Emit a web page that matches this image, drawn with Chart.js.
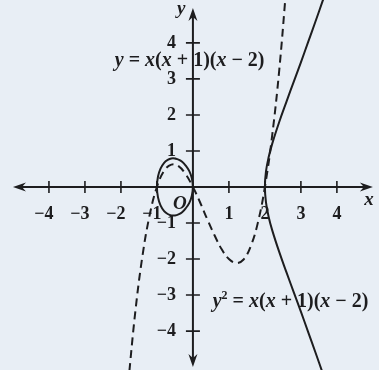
<!DOCTYPE html>
<html lang="en">
<head>
<meta charset="UTF-8" />
<title>y = x(x+1)(x-2) e y² = x(x+1)(x-2)</title>
<script src="https://cdn.jsdelivr.net/npm/chart.js"></script>
<style>
  html, body { margin: 0; padding: 0; background: #e8eef5; }
  canvas { display: block; }
</style>
</head>
<body>
<canvas id="grafico" width="379" height="370"></canvas>
<script>
// dashed cubic y = x(x+1)(x-2)
const cubicX = [-1.8, -1.6, -1.4, -1.2, -1.0, -0.8, -0.6, -0.4, -0.2, 0, 0.2, 0.4, 0.6, 0.8, 1.0, 1.2, 1.4, 1.6, 1.8, 2.0, 2.2, 2.4, 2.6];
const cubicY = [-5.47, -3.46, -1.90, -0.77, 0, 0.45, 0.62, 0.58, 0.35, 0, -0.43, -0.90, -1.34, -1.73, -2.0, -2.11, -2.02, -1.66, -1.01, 0, 1.41, 3.26, 5.62];

// solid oval of y² = x(x+1)(x-2), between -1 and 0 (goes round once, a bit past the start)
const ovalX = [-0.5, -0.4, -0.3, -0.2, -0.1, -0.03, 0, -0.03, -0.1, -0.2, -0.3, -0.4, -0.5, -0.6, -0.7, -0.8, -0.9, -0.97, -1, -0.97, -0.9, -0.8, -0.7, -0.6, -0.5, -0.4];
const ovalY = [0.79, 0.76, 0.70, 0.59, 0.44, 0.24, 0, -0.24, -0.44, -0.59, -0.70, -0.76, -0.79, -0.79, -0.75, -0.67, -0.51, -0.29, 0, 0.29, 0.51, 0.67, 0.75, 0.79, 0.79, 0.76];

// solid right branch of y² = x(x+1)(x-2), x >= 2
const branchX = [3.8, 3.6, 3.4, 3.2, 3.0, 2.8, 2.6, 2.4, 2.2, 2.1, 2.03, 2, 2.03, 2.1, 2.2, 2.4, 2.6, 2.8, 3.0, 3.2, 3.4, 3.6, 3.8];
const branchY = [5.73, 5.15, 4.58, 4.02, 3.46, 2.92, 2.37, 1.81, 1.19, 0.81, 0.43, 0, -0.43, -0.81, -1.19, -1.81, -2.37, -2.92, -3.46, -4.02, -4.58, -5.15, -5.73];

const xTicks = [-4, -3, -2, -1, 1, 2, 3, 4];
const yTicks = [-4, -3, -2, -1, 1, 2, 3, 4];

const ink = '#1d1d1f';
const serif = '"Liberation Serif", "DejaVu Serif", serif';

function pontos(xs, ys) {
    return xs.map((x, i) => ({ x: x, y: ys[i] }));
}

function seta(ctx, tx, ty, dx, dy) {
    const len = 13, half = 4.5;
    const bx = tx - dx * len, by = ty - dy * len;
    ctx.beginPath();
    ctx.moveTo(tx, ty);
    ctx.lineTo(bx - dy * half, by + dx * half);
    ctx.lineTo(bx + dx * 4, by + dy * 4);
    ctx.lineTo(bx + dy * half, by - dx * half);
    ctx.closePath();
    ctx.fill();
}

// writes a formula piece by piece: 'i' italic, 'r' upright, 's' superscript
function formula(ctx, partes, x, y, size) {
    partes.forEach(([txt, estilo]) => {
        if (estilo === 's') {
            ctx.font = 'bold ' + Math.round(size * 0.62) + 'px ' + serif;
            ctx.fillText(txt, x, y - size * 0.38);
        } else {
            ctx.font = (estilo === 'i' ? 'italic bold ' : 'bold ') + size + 'px ' + serif;
            ctx.fillText(txt, x, y);
        }
        x += ctx.measureText(txt).width;
    });
}

const eixos = {
    id: 'eixos',
    beforeDatasetsDraw(chart) {
        const ctx = chart.ctx;
        const sx = chart.scales.x, sy = chart.scales.y;
        const x0 = sx.getPixelForValue(0), y0 = sy.getPixelForValue(0);
        const left = sx.getPixelForValue(-5), right = sx.getPixelForValue(5);
        const top = sy.getPixelForValue(4.97), bottom = sy.getPixelForValue(-5);

        ctx.save();
        ctx.strokeStyle = ink;
        ctx.fillStyle = ink;
        ctx.lineWidth = 2;
        ctx.beginPath();
        ctx.moveTo(left + 8, y0); ctx.lineTo(right - 8, y0);
        ctx.moveTo(x0, top + 8); ctx.lineTo(x0, bottom - 8);
        ctx.stroke();
        seta(ctx, right, y0, 1, 0);
        seta(ctx, left, y0, -1, 0);
        seta(ctx, x0, top, 0, -1);
        seta(ctx, x0, bottom, 0, 1);

        ctx.lineWidth = 1.6;
        ctx.beginPath();
        xTicks.forEach(v => {
            const p = sx.getPixelForValue(v);
            ctx.moveTo(p, y0 - 6); ctx.lineTo(p, y0 + 6);
        });
        yTicks.forEach(v => {
            const p = sy.getPixelForValue(v);
            ctx.moveTo(x0 - 7, p); ctx.lineTo(x0 + 7, p);
        });
        ctx.stroke();
        ctx.restore();
    },
    afterDatasetsDraw(chart) {
        const ctx = chart.ctx;
        const sx = chart.scales.x, sy = chart.scales.y;
        const x0 = sx.getPixelForValue(0), y0 = sy.getPixelForValue(0);

        ctx.save();
        ctx.fillStyle = ink;
        ctx.textBaseline = 'alphabetic';
        ctx.font = 'bold 18px ' + serif;

        // x tick labels: digit centred on the tick, minus hangs to the left
        xTicks.forEach(v => {
            const p = sx.getPixelForValue(v);
            const digito = String(Math.abs(v));
            const w = ctx.measureText(digito).width;
            ctx.textAlign = 'right';
            ctx.fillText((v < 0 ? '\u2212' : '') + digito, p + w / 2, y0 + 32);
        });
        // y tick labels
        yTicks.forEach(v => {
            const p = sy.getPixelForValue(v);
            ctx.textAlign = 'right';
            ctx.fillText((v < 0 ? '\u2212' : '') + Math.abs(v), x0 - 17, p + 5);
        });

        ctx.textAlign = 'left';
        ctx.font = 'italic bold 19px ' + serif;
        ctx.fillText('O', x0 - 20, y0 + 22);
        ctx.fillText('x', sx.getPixelForValue(4.76), y0 + 18);
        ctx.fillText('y', x0 - 16, sy.getPixelForValue(4.81));

        formula(ctx, [['y', 'i'], [' = ', 'r'], ['x', 'i'], ['(', 'r'], ['x', 'i'], [' + 1)(', 'r'], ['x', 'i'], [' \u2212 2)', 'r']],
            sx.getPixelForValue(-2.17), sy.getPixelForValue(3.36), 20);
        formula(ctx, [['y', 'i'], ['2', 's'], [' = ', 'r'], ['x', 'i'], ['(', 'r'], ['x', 'i'], [' + 1)(', 'r'], ['x', 'i'], [' \u2212 2)', 'r']],
            sx.getPixelForValue(0.55), sy.getPixelForValue(-3.33), 20);
        ctx.restore();
    }
};

const linha = {
    showLine: true,
    pointRadius: 0,
    borderColor: ink,
    borderWidth: 2,
    tension: 0.4,
    fill: false
};

new Chart(document.getElementById('grafico'), {
    type: 'scatter',
    data: {
        datasets: [
            Object.assign({ label: 'y = x(x+1)(x-2)', data: pontos(cubicX, cubicY), borderDash: [8, 5] }, linha),
            Object.assign({ label: 'oval', data: pontos(ovalX, ovalY) }, linha),
            Object.assign({ label: 'ramo', data: pontos(branchX, branchY) }, linha)
        ]
    },
    options: {
        responsive: false,
        animation: false,
        devicePixelRatio: 1,
        layout: { padding: 0 },
        plugins: { legend: { display: false }, tooltip: { enabled: false } },
        scales: {
            x: { type: 'linear', min: -5.36, max: 5.17, display: false },
            y: { type: 'linear', min: -5.08, max: 5.19, display: false }
        }
    },
    plugins: [eixos]
});
</script>
</body>
</html>
